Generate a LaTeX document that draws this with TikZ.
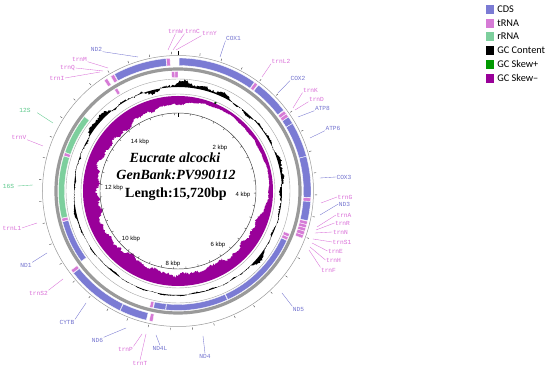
\documentclass[tikz,border=0pt]{standalone}
\usepackage{fontspec}
\setmainfont{Liberation Serif}
\newfontfamily\genefont{Liberation Mono}
\newfontfamily\kbpfont{Liberation Sans}
\newfontfamily\legendfont{Carlito}
\usetikzlibrary{positioning}
\definecolor{ccds}{HTML}{7B7BD4}
\definecolor{ctrna}{HTML}{D67BD6}
\definecolor{crrna}{HTML}{7DCF9D}
\definecolor{cskewp}{HTML}{009900}
\definecolor{cskewm}{HTML}{990099}
\definecolor{ccdslab}{HTML}{7474D0}
\definecolor{ctrnalab}{HTML}{DA6ED8}
\definecolor{crrnalab}{HTML}{5CC98B}
\definecolor{cring}{HTML}{9A9A9A}

% one feature on the map: start deg, end deg, inner r, outer r, style
\newcommand{\genearc}[5]{%
  \filldraw[#5] ({90-#1}:#4) arc[start angle={90-#1}, end angle={90-#2}, radius=#4]
    -- ({90-#2}:#3) arc[start angle={90-#2}, end angle={90-#1}, radius=#3] -- cycle;}
\newcommand{\fwdfeat}[3]{\genearc{#1}{#2}{125.5}{133}{#3}}
\newcommand{\revfeat}[3]{\genearc{#1}{#2}{113.5}{119.5}{#3}}

% depth of the GC skew trace below its baseline (angle in deg)
\pgfmathdeclarefunction{skewdepth}{1}{%
  \begingroup
    \pgfmathparse{((#1)-52)/55}\let\su\pgfmathresult
    \pgfmathparse{((#1)-168)/9}\let\sv\pgfmathresult
    \pgfmathparse{13.5 - 10/(1+(\su)*(\su)*(\su)*(\su)*(\su)*(\su)) - 3/(1+(\sv)*(\sv))}\let\sd\pgfmathresult
    \pgfmathparse{\sd*(1 + 0.12*sin(7*(#1)+30) + 0.1*sin(17*(#1)+40) + 0.08*sin(37*(#1)+10) + 0.1*rand)}%
    \pgfmathsmuggle\pgfmathresult
  \endgroup}
% deviation of the GC content trace from its baseline
\pgfmathdeclarefunction{gcdev}{1}{%
  \begingroup
    \pgfmathparse{((#1)+15)/55}\let\gu\pgfmathresult
    \pgfmathparse{1.5 + 4.5/(1+(\gu)*(\gu)*(\gu)*(\gu)) + 2.5/(1+(((#1)-85)/18)*(((#1)-85)/18)) + 2.5/(1+(((#1)-130)/10)*(((#1)-130)/10))}\let\ge\pgfmathresult
    \pgfmathparse{\ge*(0.45*sin(6*(#1)+20) + 0.3*sin(14*(#1)+75) + 0.25*sin(31*(#1)+5) + 0.25*rand) + 2/(1+(((#1)-5)/40)*(((#1)-5)/40))}%
    \pgfmathsmuggle\pgfmathresult
  \endgroup}

\begin{document}
\begin{tikzpicture}[
    x=1pt, y=1pt,
    cds/.style={fill=ccds, draw=white, line width=0.3pt},
    trna/.style={fill=ctrna, draw=white, line width=0.3pt},
    rrna/.style={fill=crrna, draw=white, line width=0.3pt},
    glab/.style={font=\genefont\fontsize{6.2}{6.2}\selectfont, inner sep=0.4pt},
    cdslab/.style={glab, text=ccdslab},
    trnalab/.style={glab, text=ctrnalab},
    rrnalab/.style={glab, text=crrnalab},
    lead/.style={line width=0.35pt},
    kbp/.style={font=\kbpfont\fontsize{6}{6}\selectfont, inner sep=0pt},
    centertxt/.style={font=\fontsize{14}{14}\selectfont\bfseries, inner sep=0pt},
    legbox/.style={minimum width=8pt, minimum height=9pt, inner sep=0pt},
    legtxt/.style={font=\legendfont\fontsize{10.3}{10.3}\selectfont, inner sep=0pt},
    tickmark/.style={line width=0.4pt, gray!55!black},
]
\pgfmathsetseed{4711}
\useasboundingbox (-178,-180) rectangle (372,191);
\fill[white] (-178,-180) rectangle (372,191);

% GC skew (baseline r=95, negative inward)
\fill[cskewm, even odd rule]
  plot[domain=-135:225, samples=721, variable=\a] ({90-\a}:{95-skewdepth(\a)}) -- cycle
  (0,0) circle[radius=95];
\genearc{22.6}{23.4}{95}{96.5}{fill=cskewp}

% GC content (baseline r=104)
\fill[black, even odd rule]
  plot[domain=-135:225, samples=721, variable=\a] ({90-\a}:{104+gcdev(\a)}) -- cycle
  (0,0) circle[radius=104];

% rings
\draw[gray!70, line width=0.4pt] (0,0) circle[radius=97];
\draw[gray!70, line width=0.4pt] (0,0) circle[radius=112];
\draw[cring, line width=3.2pt] (0,0) circle[radius=122];
\draw[gray!80, line width=0.5pt] (0,0) circle[radius=135.5];
\draw[gray!45!black, line width=0.45pt] (0,0) circle[radius=78];

% ticks every 400 bp
\foreach \k in {1,...,39} {
  \draw[tickmark] ({90-\k*9.16031}:137) -- ({90-\k*9.16031}:139.3);
  \draw[tickmark] ({90-\k*9.16031}:78) -- ({90-\k*9.16031}:76);
}
\draw[black, line width=0.9pt] (90:135.5) -- (90:140);
\draw[black, line width=0.9pt] (90:78) -- (90:73.5);

% forward strand
\fwdfeat{0.5}{35.0}{cds}     % COX1
\fwdfeat{35.3}{36.8}{trna}   % trnL2
\fwdfeat{37.2}{52.6}{cds}    % COX2
\fwdfeat{53.0}{54.5}{trna}   % trnK
\fwdfeat{54.6}{56.1}{trna}   % trnD
\fwdfeat{56.2}{59.4}{cds}    % ATP8
\fwdfeat{59.5}{74.8}{cds}    % ATP6
\fwdfeat{74.9}{92.8}{cds}    % COX3
\fwdfeat{93.0}{94.5}{trna}   % trnG
\fwdfeat{94.6}{102.9}{cds}   % ND3
\fwdfeat{103.2}{104.6}{trna} % trnA
\fwdfeat{104.7}{106.1}{trna} % trnR
\fwdfeat{106.2}{107.6}{trna} % trnN
\fwdfeat{107.7}{109.3}{trna} % trnS1
\fwdfeat{109.4}{110.8}{trna} % trnE
\fwdfeat{191.0}{192.5}{trna} % trnT
\fwdfeat{193.8}{205.8}{cds}  % ND6
\fwdfeat{206.0}{231.8}{cds}  % CYTB
\fwdfeat{232.0}{233.5}{trna} % trnS2
\fwdfeat{326.3}{327.8}{trna} % trnI
\fwdfeat{329.6}{331.2}{trna} % trnM
\fwdfeat{331.5}{354.8}{cds}  % ND2
\fwdfeat{355.0}{356.5}{trna} % trnW

% reverse strand
\revfeat{111.0}{112.5}{trna} % trnH
\revfeat{112.7}{114.2}{trna} % trnF
\revfeat{114.5}{155.3}{cds}  % ND5
\revfeat{155.6}{185.8}{cds}  % ND4
\revfeat{186.0}{191.8}{cds}  % ND4L
\revfeat{192.2}{193.7}{trna} % trnP
\revfeat{234.0}{255.0}{cds}  % ND1
\revfeat{255.2}{256.7}{trna} % trnL1
\revfeat{256.9}{287.0}{rrna} % 16S
\revfeat{287.2}{288.7}{trna} % trnV
\revfeat{288.9}{308.5}{rrna} % 12S
\revfeat{327.9}{329.4}{trna} % trnQ
\revfeat{356.9}{358.4}{trna} % trnC
\revfeat{358.5}{360.0}{trna} % trnY

% scale labels
\node[kbp] (k14) at (-38,49) {14 kbp};
\node[kbp] (k2) at (42,43) {2 kbp};
\node[kbp] (k12) at (-64,3) {12 kbp};
\node[kbp] (k4) at (65,-4) {4 kbp};
\node[kbp] (k10) at (-47,-48) {10 kbp};
\node[kbp] (k6) at (40,-54) {6 kbp};
\node[kbp] (k8) at (-5,-73) {8 kbp};

% centre text
\node[centertxt, font=\fontsize{14}{14}\selectfont\bfseries\itshape] (species) at (-3,33) {Eucrate alcocki};
\node[centertxt, font=\fontsize{14}{14}\selectfont\bfseries\itshape] (acc) at (-2,16) {GenBank:PV990112};
\node[centertxt] (len) at (-2,-3) {Length:15,720bp};

% labels, top and right side
\node[trnalab] (ltrnW) at (-2.5,160) {trnW};
\coordinate (etrnW) at (-10,141); \draw[lead, ctrnalab] (ltrnW.south) -- (etrnW);
\node[trnalab] (ltrnC) at (14.5,160) {trnC};
\coordinate (etrnC) at (-5,141); \draw[lead, ctrnalab] (ltrnC.south west) -- (etrnC);
\node[trnalab] (ltrnY) at (31.5,158) {trnY};
\coordinate (etrnY) at (-2,141); \draw[lead, ctrnalab] (ltrnY.south west) -- (etrnY);
\node[cdslab] (lCOX1) at (55.5,153) {COX1};
\coordinate (eCOX1) at (42,134); \draw[lead, ccdslab] (lCOX1.south west) -- (eCOX1);
\node[trnalab] (ltrnL2) at (103,130) {trnL2};
\coordinate (etrnL2) at (84,114); \draw[lead, ctrnalab] (ltrnL2.south west) -- (etrnL2);
\node[cdslab] (lCOX2) at (120,113) {COX2};
\coordinate (eCOX2) at (100,98); \draw[lead, ccdslab] (lCOX2.south west) -- (eCOX2);
\node[trnalab] (ltrnK) at (132.5,101) {trnK};
\coordinate (etrnK) at (115,83); \draw[lead, ctrnalab] (ltrnK.south west) -- (etrnK);
\node[trnalab] (ltrnD) at (138.5,92) {trnD};
\coordinate (etrnD) at (117,81); \draw[lead, ctrnalab] (ltrnD.south west) -- (etrnD);
\node[cdslab] (lATP8) at (144.5,83) {ATP8};
\coordinate (eATP8) at (120,74); \draw[lead, ccdslab] (lATP8.south west) -- (eATP8);
\node[cdslab] (lATP6) at (155,63) {ATP6};
\coordinate (eATP6) at (132,53); \draw[lead, ccdslab] (lATP6.south west) -- (eATP6);
\node[cdslab] (lCOX3) at (166,14) {COX3};
\coordinate (eCOX3) at (142,13); \draw[lead, ccdslab] (lCOX3.west) -- (eCOX3);
\node[trnalab] (ltrnG) at (167,-6) {trnG};
\coordinate (etrnG) at (143,-12); \draw[lead, ctrnalab] (ltrnG.west) -- (etrnG);
\node[cdslab] (lND3) at (166.5,-13) {ND3};
\coordinate (eND3) at (142,-24); \draw[lead, ccdslab] (lND3.west) -- (eND3);
\node[trnalab] (ltrnA) at (166,-24) {trnA};
\coordinate (etrnA) at (139,-36); \draw[lead, ctrnalab] (ltrnA.west) -- (etrnA);
\node[trnalab] (ltrnR) at (164.5,-32) {trnR};
\coordinate (etrnR) at (138,-39); \draw[lead, ctrnalab] (ltrnR.west) -- (etrnR);
\node[trnalab] (ltrnN) at (162.5,-41) {trnN};
\coordinate (etrnN) at (137,-42); \draw[lead, ctrnalab] (ltrnN.west) -- (etrnN);
\node[trnalab] (ltrnS1) at (164,-51) {trnS1};
\coordinate (etrnS1) at (135,-48); \draw[lead, ctrnalab] (ltrnS1.west) -- (etrnS1);
\node[trnalab] (ltrnE) at (157.5,-60) {trnE};
\coordinate (etrnE) at (134,-52); \draw[lead, ctrnalab] (ltrnE.west) -- (etrnE);
\node[trnalab] (ltrnH) at (155.5,-69) {trnH};
\coordinate (etrnH) at (132,-56); \draw[lead, ctrnalab] (ltrnH.west) -- (etrnH);
\node[trnalab] (ltrnF) at (150.5,-79) {trnF};
\coordinate (etrnF) at (131,-59); \draw[lead, ctrnalab] (ltrnF.north west) -- (etrnF);

% labels, bottom and left side
\node[cdslab] (lND5) at (120.5,-118) {ND5};
\coordinate (eND5) at (104,-102); \draw[lead, ccdslab] (lND5.north west) -- (eND5);
\node[cdslab] (lND4) at (27,-165) {ND4};
\coordinate (eND4) at (25,-145); \draw[lead, ccdslab] (lND4.north) -- (eND4);
\node[cdslab] (lND4L) at (-18,-157) {ND4L};
\coordinate (eND4L) at (-22,-144); \draw[lead, ccdslab] (lND4L.north) -- (eND4L);
\node[trnalab] (ltrnT) at (-38,-172) {trnT};
\coordinate (etrnT) at (-32,-143); \draw[lead, ctrnalab] (ltrnT.north) -- (etrnT);
\node[trnalab] (ltrnP) at (-52.5,-158) {trnP};
\coordinate (etrnP) at (-36,-143); \draw[lead, ctrnalab] (ltrnP.north east) -- (etrnP);
\node[cdslab] (lND6) at (-80.5,-149) {ND6};
\coordinate (eND6) at (-52,-137); \draw[lead, ccdslab] (lND6.north east) -- (eND6);
\node[cdslab] (lCYTB) at (-111,-131) {CYTB};
\coordinate (eCYTB) at (-92,-112); \draw[lead, ccdslab] (lCYTB.north east) -- (eCYTB);
\node[trnalab] (ltrnS2) at (-139.5,-102) {trnS2};
\coordinate (etrnS2) at (-115,-88); \draw[lead, ctrnalab] (ltrnS2.north east) -- (etrnS2);
\node[cdslab] (lND1) at (-152,-74) {ND1};
\coordinate (eND1) at (-131,-62); \draw[lead, ccdslab] (lND1.north east) -- (eND1);
\node[trnalab] (ltrnL1) at (-166,-37) {trnL1};
\coordinate (etrnL1) at (-141,-32); \draw[lead, ctrnalab] (ltrnL1.east) -- (etrnL1);
\node[rrnalab] (l16S) at (-169.5,5) {16S};
\coordinate (e16S) at (-145,6); \draw[lead, crrnalab] ([xshift=3pt]l16S.east) -- (e16S);
\node[trnalab] (ltrnV) at (-159,54) {trnV};
\coordinate (etrnV) at (-135,45); \draw[lead, ctrnalab] (ltrnV.south east) -- (etrnV);
\node[rrnalab] (l12S) at (-153,81) {12S};
\coordinate (e12S) at (-125,68); \draw[lead, crrnalab] ([xshift=6pt]l12S.south east) -- (e12S);
\node[trnalab] (ltrnI) at (-121,113) {trnI};
\coordinate (etrnI) at (-78,119); \draw[lead, ctrnalab] (ltrnI.east) -- (etrnI);
\node[trnalab] (ltrnQ) at (-110.5,123) {trnQ};
\coordinate (etrnQ) at (-75,120); \draw[lead, ctrnalab] (ltrnQ.east) -- (etrnQ);
\node[trnalab] (ltrnM) at (-98.5,132) {trnM};
\coordinate (etrnM) at (-70,123); \draw[lead, ctrnalab] (ltrnM.south east) -- (etrnM);
\node[cdslab] (lND2) at (-81.5,142) {ND2};
\coordinate (eND2) at (-40,134); \draw[lead, ccdslab] (lND2.south east) -- (eND2);

% legend
\node[legbox, fill=ccds] (bCDS) at (312,181.7) {};
\node[legtxt, right=3pt of bCDS] (tCDS) {CDS};
\node[legbox, fill=ctrna] (btRNA) at (312,167.7) {};
\node[legtxt, right=3pt of btRNA] (ttRNA) {tRNA};
\node[legbox, fill=crrna] (brRNA) at (312,154.3) {};
\node[legtxt, right=3pt of brRNA] (trRNA) {rRNA};
\node[legbox, fill=black] (bGC) at (312,140.3) {};
\node[legtxt, right=3pt of bGC] (tGC) {GC Content};
\node[legbox, fill=cskewp] (bSkp) at (312,126.7) {};
\node[legtxt, right=3pt of bSkp] (tSkp) {GC Skew+};
\node[legbox, fill=cskewm] (bSkm) at (312,112.7) {};
\node[legtxt, right=3pt of bSkm] (tSkm) {GC Skew–};

\end{tikzpicture}
\end{document}
